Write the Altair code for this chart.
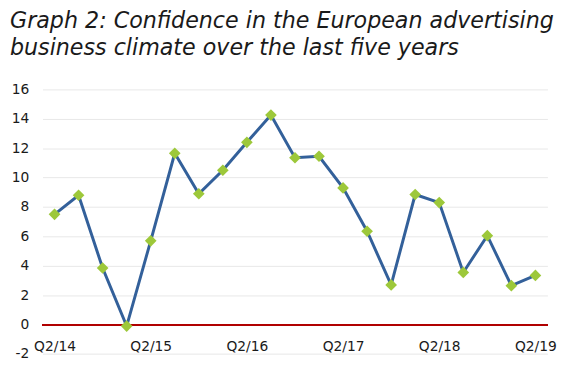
import altair as alt
import pandas as pd

quarters = ["Q2/14", "Q3/14", "Q4/14", "Q1/15", "Q2/15", "Q3/15", "Q4/15", "Q1/16",
            "Q2/16", "Q3/16", "Q4/16", "Q1/17", "Q2/17", "Q3/17", "Q4/17", "Q1/18",
            "Q2/18", "Q3/18", "Q4/18", "Q1/19", "Q2/19"]
values = [7.5, 8.8, 3.85, -0.1, 5.7, 11.65, 8.9, 10.5, 12.4, 14.25,
          11.35, 11.45, 9.3, 6.35, 2.7, 8.85, 8.3, 3.55, 6.05, 2.65, 3.35]
label_quarters = ["Q2/14", "Q2/15", "Q2/16", "Q2/17", "Q2/18", "Q2/19"]
y_ticks = [-2, 0, 2, 4, 6, 8, 10, 12, 14, 16]
title_lines = ["Graph 2: Confidence in the European advertising",
               "business climate over the last five years"]

df = pd.DataFrame({"quarter": quarters, "value": values})

FONT = "DejaVu Sans"

y_scale = alt.Scale(domain=[-2, 16], nice=False, zero=False)
y_axis = alt.Axis(title=None, values=y_ticks, format="d", domain=False, ticks=False,
                  grid=True, gridColor="#e8e8e8", gridWidth=1,
                  labelPadding=14, labelFont=FONT, labelFontSize=14,
                  labelColor="#1a1a1a", labelExpr="replace(datum.label, '−', '-')")

x = alt.X("quarter:O", sort=quarters,
          scale=alt.Scale(type="point", padding=0.5),
          axis=alt.Axis(title=None, values=label_quarters, labelAngle=0,
                        domain=False, ticks=False, grid=False, offset=-29.8,
                        labelPadding=15, labelFont=FONT, labelFontSize=14,
                        labelColor="#1a1a1a"))
y = alt.Y("value:Q", scale=y_scale, axis=y_axis)

base = alt.Chart(df)
zero = alt.Chart(df).mark_rule(color="#b00000", strokeWidth=1.5).encode(
    y=alt.Y(datum=0, type="quantitative", scale=y_scale, axis=y_axis))
line = base.mark_line(color="#33609a", strokeWidth=3).encode(x=x, y=y)
pts = base.mark_point(shape="diamond", filled=True, size=140, opacity=1,
                      color="#9dc83a").encode(x=x, y=y)

chart = alt.layer(zero, line, pts).properties(
    width=512, height=268.4,
    autosize=alt.AutoSizeParams(type="none"),
    padding={"left": 35, "top": 80, "right": 31, "bottom": 10},
    title=alt.Title(title_lines, anchor="start", font=FONT, fontSize=22.5,
                    fontStyle="italic", fontWeight="normal", color="#1a1a1a",
                    lineHeight=28, dx=-33, dy=-13, offset=10, frame="group"),
).configure_view(stroke=None)

chart.save("out.html", embed_options={"renderer": "svg", "actions": False})
